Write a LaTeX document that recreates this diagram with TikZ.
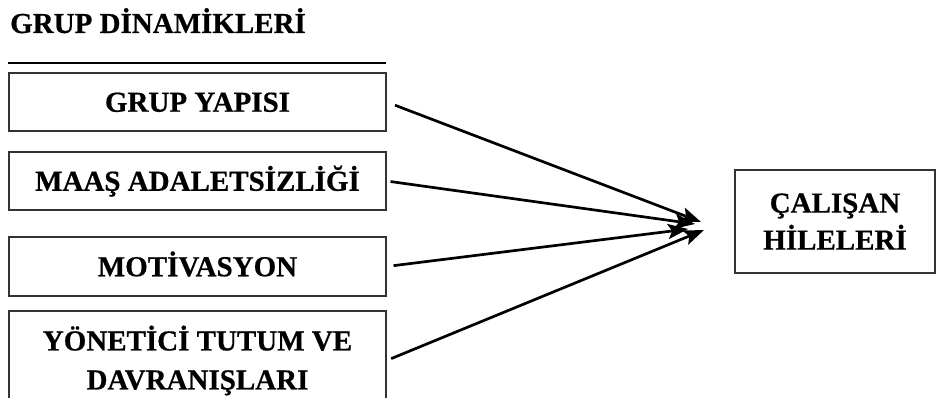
\documentclass[tikz,border=0pt]{standalone}
\usepackage{fontspec}
\setmainfont{Liberation Serif}[BoldFeatures={FakeBold=0.6}]
\usetikzlibrary{arrows.meta}
\begin{document}
\begin{tikzpicture}[x=1pt,y=-1pt,
  txt/.style={font=\fontsize{29}{39}\selectfont\bfseries},
  box/.style={txt, draw=black!80, line width=1.2pt, inner sep=0pt, align=center, minimum width=377pt},
  onel/.style={text height=19.5pt, text depth=0pt},
  arr/.style={line width=2.7pt, -{Stealth[length=20pt,width=15pt,inset=4pt]}}]
\useasboundingbox (0,0) rectangle (936,398);
\clip (0,0) rectangle (936,398);
\node[txt, anchor=base west, inner sep=0pt] (title) at (10,33) {GRUP DİNAMİKLERİ};
\coordinate (r1) at (8,63);
\coordinate (r2) at (386,63);
\draw[line width=2.8pt] (r1) -- (r2);
\node[box, onel, minimum height=58pt] (b1) at (197.5,102) {GRUP YAPISI};
\node[box, onel, minimum height=58pt] (b2) at (197.5,181) {MAAŞ ADALETSİZLİĞİ};
\node[box, onel, minimum height=59pt] (b3) at (197.5,266.5) {MOTİVASYON};
\node[box, minimum height=99pt] (b4) at (197.5,360.5) {YÖNETİCİ TUTUM VE\\DAVRANIŞLARI};
\node[box, font=\fontsize{29}{37}\selectfont\bfseries, minimum width=200pt, minimum height=103pt] (t) at (835,221.5) {ÇALIŞAN\\HİLELERİ};
\coordinate (e1) at (701,222);
\coordinate (e2) at (695,224);
\coordinate (e3) at (688,229);
\coordinate (e4) at (704,230);
\draw[arr, shorten <=9pt] (b1.east) -- (e1);
\draw[arr, shorten <=4pt] (b2.east) -- (e2);
\draw[arr, shorten <=7pt] (b3.east) -- (e3);
\draw[arr, shorten <=5pt] (b4.east) -- (e4);
\end{tikzpicture}
\end{document}
